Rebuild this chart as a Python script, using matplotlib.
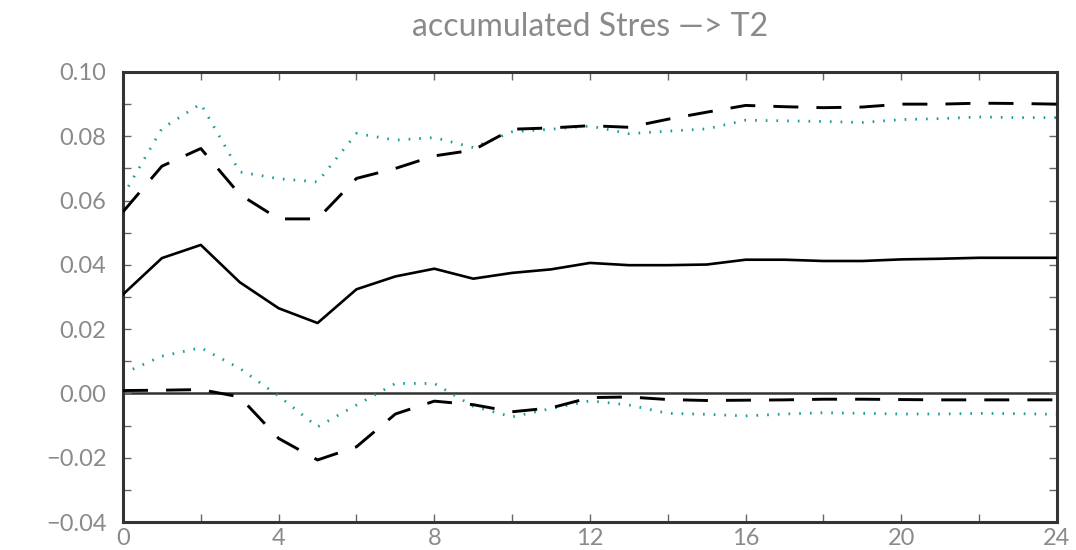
import matplotlib
matplotlib.use("Agg")
import matplotlib.pyplot as plt
import numpy as np

steps = list(range(25))
response = [0.0308, 0.0421, 0.0462, 0.0346, 0.0265, 0.0219, 0.0324, 0.0364, 0.0388,
            0.0357, 0.0375, 0.0386, 0.0406, 0.0399, 0.0399, 0.0401, 0.0416, 0.0416,
            0.0412, 0.0412, 0.0417, 0.0419, 0.0422, 0.0422, 0.0422]
dash_upper = [0.0565, 0.0707, 0.0762, 0.0619, 0.0543, 0.0543, 0.0669, 0.0700, 0.0739,
              0.0757, 0.0822, 0.0826, 0.0833, 0.0828, 0.0853, 0.0875, 0.0896, 0.0892,
              0.0889, 0.0891, 0.0900, 0.0900, 0.0903, 0.0902, 0.0900]
dash_lower = [0.0009, 0.0010, 0.0012, -0.0011, -0.0140, -0.0207, -0.0166, -0.0064, -0.0024,
              -0.0035, -0.0057, -0.0045, -0.0013, -0.0011, -0.0019, -0.0022, -0.0021, -0.0020,
              -0.0018, -0.0018, -0.0019, -0.0020, -0.0020, -0.0020, -0.0020]
dot_upper = [0.0615, 0.0824, 0.0901, 0.0689, 0.0668, 0.0658, 0.0809, 0.0788, 0.0796,
             0.0765, 0.0814, 0.0822, 0.0832, 0.0808, 0.0816, 0.0823, 0.0850, 0.0848,
             0.0846, 0.0843, 0.0852, 0.0855, 0.0860, 0.0858, 0.0858]
dot_lower = [0.0062, 0.0116, 0.0142, 0.0078, -0.0008, -0.0104, -0.0036, 0.0031, 0.0031,
             -0.0040, -0.0073, -0.0047, -0.0023, -0.0036, -0.0062, -0.0065, -0.0070, -0.0064,
             -0.0060, -0.0062, -0.0064, -0.0064, -0.0062, -0.0063, -0.0065]
x_ticks = [0, 4, 8, 12, 16, 20, 24]
y_ticks = [-0.04, -0.02, 0.00, 0.02, 0.04, 0.06, 0.08, 0.10]
y_labels = ["\u22120.04", "\u22120.02", "0.00", "0.02", "0.04", "0.06", "0.08", "0.10"]
title = "accumulated Stres \u2014> T2"

plt.rcParams['lines.scale_dashes'] = False
fig = plt.figure(figsize=(10.76, 5.5), dpi=100)
ax = fig.add_axes([0.1143, 0.0509, 0.8680, 0.8182])

teal = "#1f9a9a"
text_gray = "#8a8a8a"
ax.axhline(0, color="#333333", lw=1.8, zorder=1)
ax.plot(steps, response, color="black", lw=1.9, zorder=3)
ax.plot(steps, dash_upper, color="black", lw=2.1, dashes=(18, 13), zorder=3)
ax.plot(steps, dash_lower, color="black", lw=2.1, dashes=(18, 13), zorder=3)
ax.plot(steps, dot_upper, color=teal, lw=2.0, dashes=(1.2, 6.5), zorder=2)
ax.plot(steps, dot_lower, color=teal, lw=2.0, dashes=(1.2, 6.5), zorder=2)

ax.set_xlim(0, 24)
ax.set_ylim(-0.04, 0.10)
ax.set_xticks(x_ticks)
ax.set_xticks(range(0, 25, 2), minor=True)
ax.set_yticks(y_ticks)
ax.set_yticklabels(y_labels)
ax.set_yticks(np.arange(-0.04, 0.1001, 0.01), minor=True)

for lab in ax.get_xticklabels() + ax.get_yticklabels():
    lab.set_fontfamily("Lato")
    lab.set_fontweight("normal")
    lab.set_fontsize(17)
    lab.set_color(text_gray)

ax.tick_params(which="both", direction="in", top=True, right=True,
               length=6, width=1.0, color="#666666")
ax.tick_params(axis="y", which="major", pad=12)
ax.tick_params(axis="x", which="major", pad=4)
for s in ax.spines.values():
    s.set_linewidth(2.2)
    s.set_color("#333333")

fig.text(0.548, 0.951, title, ha="center", va="center", fontsize=23,
         color=text_gray, family="Lato", weight="normal")

fig.savefig("out.png", dpi=100)
